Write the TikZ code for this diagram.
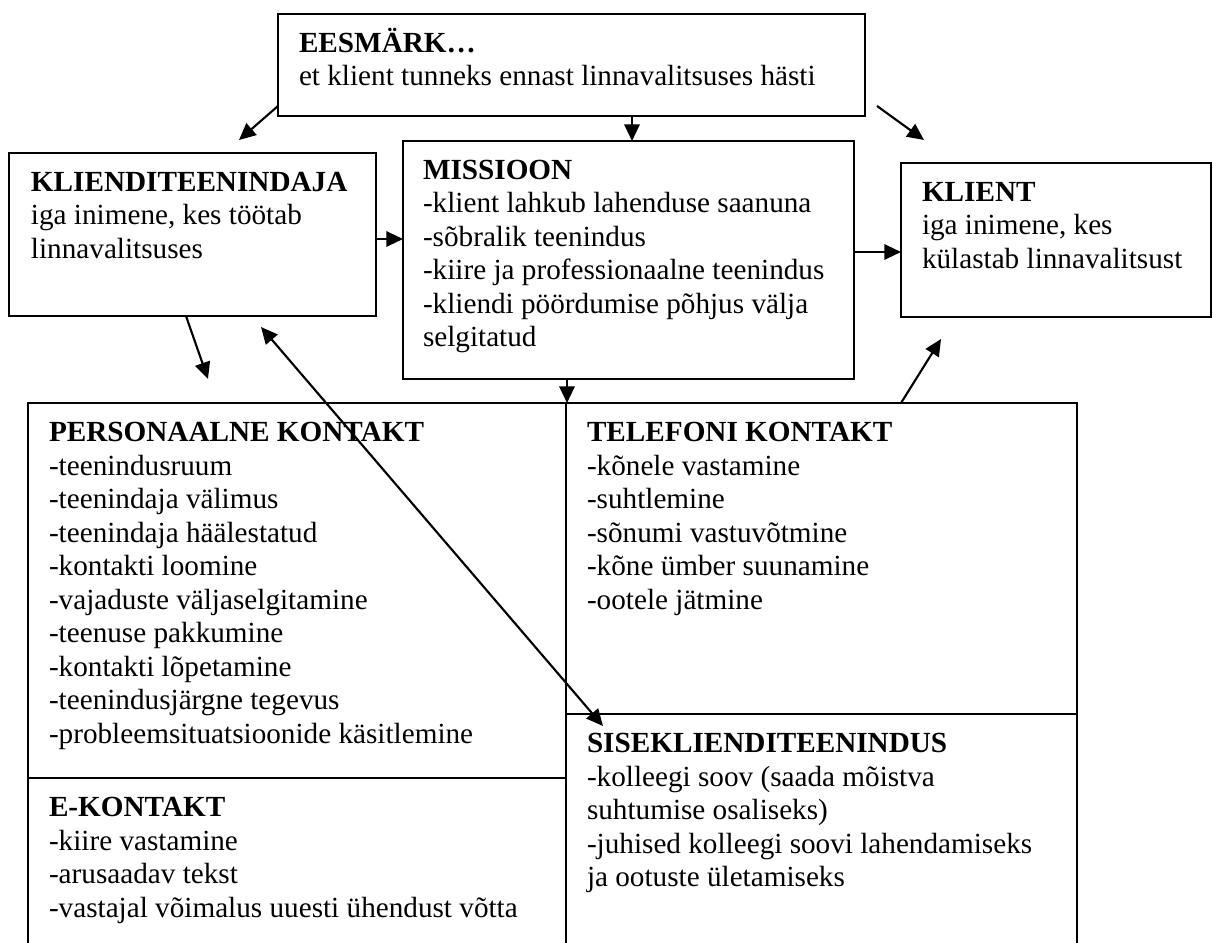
\documentclass[tikz,border=0pt]{standalone}
\usepackage{fontspec}
\setmainfont{Liberation Serif}
\usetikzlibrary{arrows.meta,calc,fit}
% heading line with a fixed-height strut so every first baseline sits alike
\newcommand{\hd}[1]{\rule{0pt}{20pt}\textbf{#1}}
\begin{document}
\begin{tikzpicture}[x=0.75pt,y=-0.75pt,
  box/.style={draw, line width=1.6pt, inner sep=0pt, outer sep=0pt},
  txt/.style={anchor=north west, inner sep=0pt, outer sep=0pt, align=left,
              font=\fontsize{21.9pt}{25.1pt}\selectfont},
  headtip/.tip={Triangle[length=12.5pt,width=11.5pt]},
  arr/.style={line width=1.6pt, -headtip},
  dblarr/.style={line width=1.6pt, headtip-headtip}]
\useasboundingbox (0,0) rectangle (1213,942);
\clip (0,0) rectangle (1213,942);

% upper row of boxes
\node[box, fit={(278,14) (865,116)}]  (ees) {};
\node[box, fit={(9,153) (376,316)}]   (kt)  {};
\node[box, fit={(403,141) (854,379)}] (mis) {};
\node[box, fit={(901,163) (1211,317)}] (kl) {};

% lower grid of four cells
\node[box, fit={(28,403) (566,778)}]   (pk) {};
\node[box, fit={(28,778) (566,960)}]   (ek) {};
\node[box, fit={(566,403) (1077,714)}] (tk) {};
\node[box, fit={(566,714) (1077,960)}] (sk) {};

% texts
\node[txt] (ees-t) at ($(ees.north west)+(21,11.8)$)
  {\hd{EESMÄRK…}\\et klient tunneks ennast linnavalitsuses hästi};
\node[txt] (kt-t) at ($(kt.north west)+(22,11.8)$)
  {\hd{KLIENDITEENINDAJA}\\iga inimene, kes töötab\\linnavalitsuses};
\node[txt] (mis-t) at ($(mis.north west)+(20,11.8)$)
  {\hd{MISSIOON}\\-klient lahkub lahenduse saanuna\\-sõbralik teenindus\\%
   -kiire ja professionaalne teenindus\\-kliendi pöördumise põhjus välja\\selgitatud};
\node[txt] (kl-t) at ($(kl.north west)+(21,11.8)$)
  {\hd{KLIENT}\\iga inimene, kes\\külastab linnavalitsust};
\node[txt] (pk-t) at ($(pk.north west)+(21,12.3)$)
  {\hd{PERSONAALNE KONTAKT}\\-teenindusruum\\-teenindaja välimus\\-teenindaja häälestatud\\%
   -kontakti loomine\\-vajaduste väljaselgitamine\\-teenuse pakkumine\\%
   -kontakti lõpetamine\\-teenindusjärgne tegevus\\-probleemsituatsioonide käsitlemine};
\node[txt] (ek-t) at ($(ek.north west)+(21,12.3)$)
  {\hd{E-KONTAKT}\\-kiire vastamine\\-arusaadav tekst\\-vastajal võimalus uuesti ühendust võtta};
\node[txt] (tk-t) at ($(tk.north west)+(21,12.3)$)
  {\hd{TELEFONI KONTAKT}\\-kõnele vastamine\\-suhtlemine\\-sõnumi vastuvõtmine\\%
   -kõne ümber suunamine\\-ootele jätmine};
\node[txt] (sk-t) at ($(sk.north west)+(21,12.3)$)
  {\hd{SISEKLIENDITEENINDUS}\\-kolleegi soov (saada mõistva\\suhtumise osaliseks)\\%
   -juhised kolleegi soovi lahendamiseks\\ja ootuste ületamiseks};

% free arrow ends
\coordinate (a1-end) at (239,140);
\coordinate (a3-end) at (924,140);
\coordinate (a6-end) at (208,379);
\coordinate (a8-end) at (941,339);
\coordinate (a9-a)   at (261,327);
\coordinate (a9-b)   at (603,726);

% connectors
\draw[arr] ($(ees.south west)+(0,-10)$) -- (a1-end);
\coordinate (a2) at ($(ees.south west)+(354,0)$);
\draw[arr] (a2) -- (mis.north -| a2);
\draw[arr] ($(ees.south east)+(12,-10)$) -- (a3-end);
\coordinate (a4) at ($(kt.north east)+(0,86)$);
\draw[arr] (a4) -- (mis.west |- a4);
\coordinate (a5) at ($(mis.north east)+(0,111)$);
\draw[arr] (a5) -- (kl.west |- a5);
\draw[arr] ($(kt.south west)+(177,0)$) -- (a6-end);
\coordinate (a7) at ($(mis.south west)+(164,0)$);
\draw[arr] (a7) -- (pk.north -| a7);
\draw[arr] (tk.north -| kl.west) -- (a8-end);
\draw[dblarr] (a9-a) -- (a9-b);
\end{tikzpicture}
\end{document}
